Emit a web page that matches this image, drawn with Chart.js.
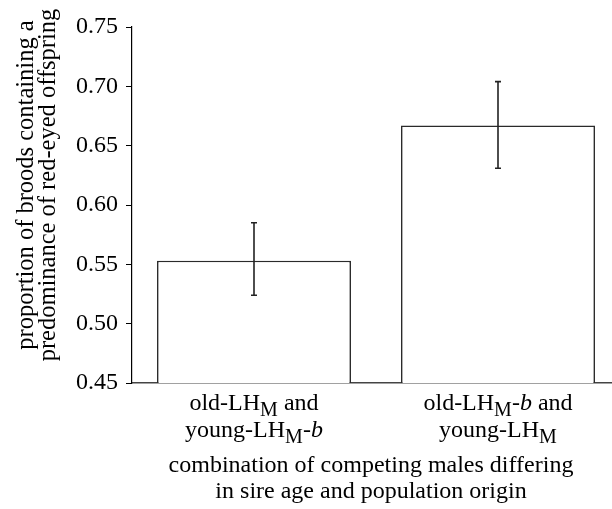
<!DOCTYPE html>
<html>
<head>
<meta charset="utf-8">
<script src="https://cdn.jsdelivr.net/npm/chart.js@4"></script>
<style>
  html, body { margin: 0; padding: 0; background: #fff; overflow: hidden; }
  #wrap { position: relative; width: 624px; height: 509px; }
</style>
</head>
<body>
<div id="wrap"><canvas id="c"></canvas></div>
<script>
// ---- data ----
const categories = [
  ['old-LH_{M} and', 'young-LH_{M}-<i>b</i>'],
  ['old-LH_{M}-<i>b</i> and', 'young-LH_{M}']
];
const values = [0.553, 0.667];
const errLow = [0.524, 0.631];
const errHigh = [0.585, 0.704];
const yTicks = [0.45, 0.50, 0.55, 0.60, 0.65, 0.70, 0.75];
const yTitle = ['proportion of broods containing a', 'predominance of red-eyed offspring'];
const xTitle = ['combination of competing males differing', 'in sire age and population origin'];

const FONT = "'Liberation Serif', 'Times New Roman', serif";

function plain(s) { return s.replace(/_\{([^}]*)\}/g, '$1').replace(/<\/?i>/g, ''); }

function parseRich(s) {
  const parts = s.split(/(_\{[^}]*\}|<i>[^<]*<\/i>)/).filter(p => p.length);
  return parts.map(p => {
    if (p.startsWith('_{')) return { t: p.slice(2, -1), sub: true };
    if (p.startsWith('<i>')) return { t: p.slice(3, -4), it: true };
    return { t: p };
  });
}

const richLabels = {
  id: 'richLabels',
  afterDraw(chart) {
    const ctx = chart.ctx;
    const xs = chart.scales.x;
    const base = chart.chartArea.bottom;
    ctx.save();
    ctx.fillStyle = '#000';
    ctx.textBaseline = 'alphabetic';
    ctx.textAlign = 'left';
    categories.forEach((lines, i) => {
      const cx = xs.getPixelForValue(i);
      lines.forEach((line, li) => {
        const segs = parseRich(line);
        const fontFor = s => s.sub ? `20px ${FONT}` : (s.it ? `italic 24px ${FONT}` : `24px ${FONT}`);
        let w = 0;
        segs.forEach(s => { ctx.font = fontFor(s); s.w = ctx.measureText(s.t).width; w += s.w; });
        let x = cx - w / 2;
        const y = base + 27 + li * 27;
        segs.forEach(s => {
          ctx.font = fontFor(s);
          ctx.fillText(s.t, x, s.sub ? y + 6 : y);
          x += s.w;
        });
      });
    });
    // x-axis title
    ctx.font = `24px ${FONT}`;
    ctx.textAlign = 'center';
    xTitle.forEach((t, i) => {
      ctx.fillText(t, 371, base + 89 + i * 26);
    });
    // y-axis title
    ctx.font = `24.5px ${FONT}`;
    ctx.textBaseline = 'middle';
    const xsPos = [27, 49];
    yTitle.forEach((t, i) => {
      ctx.save();
      ctx.translate(xsPos[i], 185);
      ctx.rotate(-Math.PI / 2);
      ctx.fillText(t, 0, 0);
      ctx.restore();
    });
    ctx.restore();
  }
};

const errorBars = {
  id: 'errorBars',
  afterDatasetsDraw(chart) {
    const ctx = chart.ctx;
    const xs = chart.scales.x, ys = chart.scales.y;
    ctx.save();
    ctx.strokeStyle = '#222';
    ctx.lineWidth = 1.6;
    values.forEach((v, i) => {
      const x = xs.getPixelForValue(i);
      const yl = ys.getPixelForValue(errLow[i]);
      const yh = ys.getPixelForValue(errHigh[i]);
      ctx.beginPath();
      ctx.moveTo(x, yl); ctx.lineTo(x, yh);
      ctx.moveTo(x - 3, yl); ctx.lineTo(x + 3, yl);
      ctx.moveTo(x - 3, yh); ctx.lineTo(x + 3, yh);
      ctx.stroke();
    });
    ctx.restore();
  }
};

new Chart(document.getElementById('c'), {
  type: 'bar',
  data: {
    labels: categories.map(l => l.map(plain)),
    datasets: [{
      data: values,
      backgroundColor: '#fff',
      borderColor: '#2a2a2a',
      borderWidth: 1.6,
      borderSkipped: false,
      categoryPercentage: 1,
      barPercentage: 0.795
    }]
  },
  options: {
    responsive: true,
    maintainAspectRatio: false,
    animation: false,
    devicePixelRatio: 1,
    layout: { padding: { top: 27, right: 4, bottom: 0, left: 0 } },
    plugins: { legend: { display: false }, tooltip: { enabled: false } },
    scales: {
      x: {
        type: 'category',
        grid: { display: false },
        border: { display: true, color: '#444', width: 1.5 },
        ticks: { display: false },
        title: { display: false },
        afterFit(scale) { scale.height = 126; }
      },
      y: {
        min: yTicks[0],
        max: yTicks[yTicks.length - 1],
        afterBuildTicks(scale) { scale.ticks = yTicks.map(v => ({ value: v })); },
        grid: { drawOnChartArea: false, drawTicks: true, tickLength: 6, color: '#000', tickWidth: 1 },
        border: { display: true, color: '#000', width: 1.2 },
        ticks: {
          padding: 8,
          color: '#000',
          font: { family: FONT, size: 24 },
          callback: v => Number(v).toFixed(2)
        },
        afterFit(scale) { scale.width = 132; }
      }
    }
  },
  plugins: [errorBars, richLabels]
});
</script>
</body>
</html>
